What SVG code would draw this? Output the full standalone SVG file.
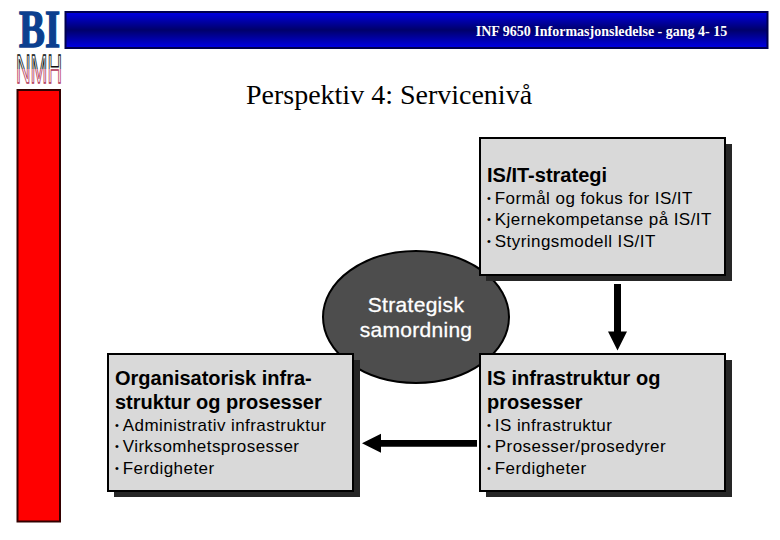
<svg xmlns="http://www.w3.org/2000/svg" width="780" height="540" viewBox="0 0 780 540">
<style>
.s{font-family:"Liberation Sans",Arial,sans-serif;fill:#000}
.h{font-size:20px;font-weight:bold}
.b{font-size:17px;letter-spacing:.44px}
.d{font-size:11px}
.w{font-size:21px;fill:#fff;stroke:#fff;stroke-width:.3px;letter-spacing:.3px}
.box{fill:#d9d9d9;stroke:#000;stroke-width:2}
.shadow{fill:#262626}
</style>
<defs>
<linearGradient id="g" x1="0" y1="0" x2="0" y2="1">
<stop offset="0" stop-color="#0000e6"/><stop offset=".5" stop-color="#00006a"/><stop offset="1" stop-color="#0000e6"/>
</linearGradient>
<linearGradient id="n" gradientUnits="userSpaceOnUse" x1="0" y1="54" x2="0" y2="83">
<stop offset="0" stop-color="#111"/><stop offset=".5" stop-color="#111"/><stop offset=".5" stop-color="#b03050"/><stop offset="1" stop-color="#b03050"/>
</linearGradient>
</defs>
<rect width="780" height="540" fill="#fff"/>
<g id="logo-bi"><text x="39.500" y="46.500" text-anchor="middle" font-family="'Liberation Serif',serif" font-weight="bold" font-size="52" textLength="41" lengthAdjust="spacingAndGlyphs" fill="#0b3f8f" stroke="#0b3f8f" stroke-width="1.500">BI</text></g>
<g id="logo-nmh"><text x="39" y="82.500" text-anchor="middle" font-family="'Liberation Sans',sans-serif" font-size="40" textLength="46" lengthAdjust="spacingAndGlyphs" fill="#fff" stroke="url(#n)" stroke-width="1.400">NMH</text></g>
<g id="sidebar"><rect x="17.500" y="90" width="42.500" height="431.500" fill="#f00" stroke="#300" stroke-width="2"/></g>
<g id="header"><rect x="65.500" y="12" width="702" height="36" fill="url(#g)" stroke="#000050" stroke-width="2"/>
<text x="601.500" y="35.500" text-anchor="middle" font-family="'Liberation Serif',serif" font-size="14" font-weight="bold" fill="#fff">INF 9650 Informasjonsledelse - gang 4- 15</text></g>
<g id="title"><text x="389" y="104" text-anchor="middle" font-family="'Liberation Serif',serif" font-size="28" fill="#000">Perspektiv 4: Servicenivå</text></g>
<g id="strategisk"><ellipse cx="416" cy="317" rx="93" ry="66" fill="#4d4d4d" stroke="#000" stroke-width="2"/>
<text x="416" y="312" text-anchor="middle" class="s w">Strategisk</text>
<text x="416" y="337" text-anchor="middle" class="s w">samordning</text></g>
<g id="is-it-strategi"><rect class="shadow" x="486" y="144" width="246" height="137"/><rect class="box" x="480" y="138" width="245" height="137"/>
<text class="s h" x="487" y="182">IS/IT-strategi</text>
<text class="s b" x="487" y="204"><tspan class="d" dy="-2">• </tspan><tspan dy="2">Formål og fokus for IS/IT</tspan></text>
<text class="s b" x="487" y="225"><tspan class="d" dy="-2">• </tspan><tspan dy="2">Kjernekompetanse på IS/IT</tspan></text>
<text class="s b" x="487" y="247"><tspan class="d" dy="-2">• </tspan><tspan dy="2">Styringsmodell IS/IT</tspan></text></g>
<g id="organisatorisk"><rect class="shadow" x="114" y="360" width="246" height="137"/><rect class="box" x="108" y="354" width="245" height="137"/>
<text class="s h" x="115" y="385">Organisatorisk infra-</text>
<text class="s h" x="115" y="409">struktur og prosesser</text>
<text class="s b" x="115" y="431"><tspan class="d" dy="-2">• </tspan><tspan dy="2">Administrativ infrastruktur</tspan></text>
<text class="s b" x="115" y="452"><tspan class="d" dy="-2">• </tspan><tspan dy="2">Virksomhetsprosesser</tspan></text>
<text class="s b" x="115" y="474"><tspan class="d" dy="-2">• </tspan><tspan dy="2">Ferdigheter</tspan></text></g>
<g id="is-infrastruktur"><rect class="shadow" x="486" y="360" width="246" height="137"/><rect class="box" x="480" y="354" width="245" height="137"/>
<text class="s h" x="487" y="385">IS infrastruktur og</text>
<text class="s h" x="487" y="409">prosesser</text>
<text class="s b" x="487" y="431"><tspan class="d" dy="-2">• </tspan><tspan dy="2">IS infrastruktur</tspan></text>
<text class="s b" x="487" y="452"><tspan class="d" dy="-2">• </tspan><tspan dy="2">Prosesser/prosedyrer</tspan></text>
<text class="s b" x="487" y="474"><tspan class="d" dy="-2">• </tspan><tspan dy="2">Ferdigheter</tspan></text></g>
<g id="connectors" fill="#000">
<path d="M614 284h7v47.500h6l-9.500 19-9.500-19h6z"/>
<path d="M477 440v6.700h-96v6l-19-9.500 19-9.500v6.300z"/>
</g>
</svg>
